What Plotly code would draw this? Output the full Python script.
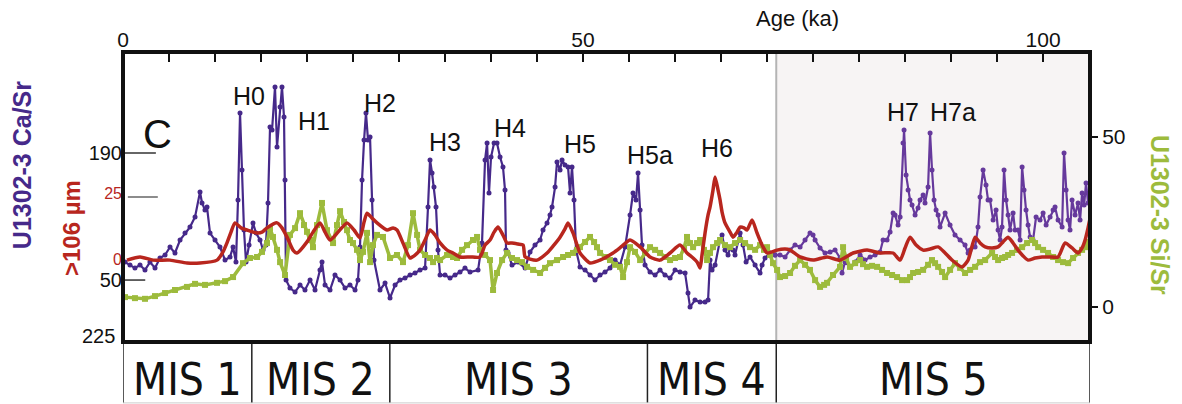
import plotly.graph_objects as go

# ---------------- data ----------------
# U1302-3 Ca/Sr (XRF), age in ka
ca_age = [0.22, 0.76, 1.30, 1.85, 2.39, 2.93, 3.48, 4.02, 4.57, 5.11, 5.65, 6.20, 6.74, 7.28, 7.83,
          8.37, 8.59, 8.91, 9.13, 9.46, 10.00, 10.54, 11.09, 11.63, 11.96, 12.28, 12.50, 12.72, 12.93,
          13.15, 13.37, 13.70, 14.13, 14.46, 14.89, 15.22, 15.54, 15.76, 15.98, 16.20, 16.52, 16.74,
          17.07, 17.28, 17.50, 17.61, 17.72, 18.15, 18.70, 19.24, 19.78, 20.33, 20.87, 21.41, 21.63,
          21.96, 22.50, 23.04, 23.59, 24.13, 24.67, 25.22, 25.54, 25.76, 25.98, 26.20, 26.41, 26.63,
          26.85, 27.07, 27.28, 27.93, 28.48, 29.02, 29.57, 30.11, 30.65, 31.20, 31.74, 32.28, 32.83,
          33.15, 33.37, 33.59, 33.80, 34.02, 34.24, 34.46, 35.00, 35.54, 36.09, 36.63, 37.17, 37.72,
          38.59, 39.02, 39.35, 39.57, 39.78, 40.00, 40.33, 40.65, 40.98, 41.30, 41.52, 41.63, 41.85,
          42.28, 42.93, 43.70, 44.24, 44.78, 45.33, 45.65, 46.09, 46.41, 46.63, 46.96, 47.17, 47.50,
          47.72, 48.04, 48.37, 48.59, 48.80, 49.02, 49.24, 49.67, 50.22, 50.76, 51.30, 51.85, 52.39,
          52.93, 53.48, 54.02, 54.57, 55.11, 55.43, 55.76, 55.98, 56.20, 56.41, 56.74, 57.28, 57.83,
          58.37, 58.91, 59.46, 60.00, 60.54, 61.09, 61.41, 61.63, 62.17, 62.72, 63.26, 63.59, 63.80,
          64.02, 64.35, 64.89, 65.11, 65.43, 65.76, 65.98, 66.30, 66.52, 67.07, 67.39, 67.72, 68.15,
          68.70, 69.24, 69.46, 69.78, 70.33, 70.87, 71.41, 71.96, 72.50, 73.04, 73.59, 74.13, 74.67,
          75.00, 75.22, 75.76, 76.30, 76.85, 77.39, 77.93, 78.15, 78.48, 79.02, 79.57, 80.11, 80.65,
          81.20, 81.74, 82.28, 82.61, 83.04, 83.37, 83.70, 83.91, 84.24, 84.46, 84.78, 84.89, 85.11,
          85.33, 85.54, 85.76, 86.09, 86.41, 86.63, 86.96, 87.17, 87.50, 87.72, 87.93, 88.15, 88.37,
          88.59, 88.80, 89.35, 89.89, 90.43, 90.98, 91.52, 91.85, 92.07, 92.61, 92.93, 93.15, 93.48,
          93.80, 94.02, 94.24, 94.57, 94.89, 95.11, 95.33, 95.54, 95.76, 95.98, 96.20, 96.41, 96.74,
          96.96, 97.28, 97.50, 97.72, 97.93, 98.15, 98.37, 98.59, 98.91, 99.24, 99.67, 100.00, 100.33,
          100.76, 101.09, 101.30, 101.63, 102.07, 102.28, 102.50, 102.72, 102.93, 103.15, 103.48,
          103.80, 104.02, 104.24, 104.46, 104.67, 104.89]
ca_sr = [69.8, 66.5, 63.2, 66.5, 61.0, 69.8, 63.2, 74.3, 77.6, 86.4, 79.8, 94.1, 101.8, 108.4, 119.5,
         147.0, 134.9, 127.2, 130.5, 101.8, 94.1, 86.4, 72.0, 75.4, 86.4, 69.8, 138.2, 234.1, 171.3,
         105.1, 69.8, 88.6, 112.8, 101.8, 94.1, 83.1, 88.6, 134.9, 218.7, 215.4, 262.8, 196.6,
         240.7, 262.8, 229.7, 160.2, 50.0, 41.2, 36.8, 44.5, 39.0, 50.0, 39.0, 61.0, 69.8,
         44.5, 39.0, 55.5, 50.0, 41.2, 44.5, 39.0, 50.0, 86.4, 160.2, 204.3, 234.1, 204.3,
         207.6, 138.2, 72.0, 39.0, 46.7, 30.2, 44.5, 50.0, 52.2, 55.5, 57.7, 61.0, 63.2,
         130.5, 182.3, 168.0, 152.5, 130.5, 83.1, 55.5, 55.5, 52.2, 55.5, 58.8, 63.2, 58.8,
         61.0, 90.8, 182.3, 201.0, 145.9, 185.6, 201.0, 201.0, 185.6, 174.6, 149.2, 83.1, 79.8,
         66.5, 69.8, 63.2, 80.9, 88.6, 94.1, 105.1, 112.8, 121.7, 130.5, 152.5, 180.1, 171.3,
         182.3, 176.8, 174.6, 145.9, 174.6, 138.2, 83.1, 64.3, 61.0, 55.5, 50.0, 55.5, 58.8,
         63.2, 72.0, 66.5, 86.4, 121.7, 145.9, 138.2, 168.0, 127.2, 88.6, 66.5, 58.8, 55.5,
         61.0, 55.5, 52.2, 61.0, 58.8, 57.7, 35.7, 20.2, 28.0, 25.7, 25.7, 28.0, 72.0,
         61.0, 66.5, 94.1, 99.6, 83.1, 77.6, 85.3, 83.1, 77.6, 101.8, 88.6, 69.8, 75.4,
         66.5, 57.7, 66.5, 74.3, 79.8, 77.6, 77.6, 75.4, 83.1, 88.6, 86.4, 94.1, 101.8,
         99.6, 94.1, 85.3, 79.8, 80.9, 83.1, 74.3, 57.7, 69.8, 64.3, 69.8, 77.6, 72.0,
         75.4, 77.6, 80.9, 94.1, 94.1, 102.9, 123.9, 121.7, 110.6, 119.5, 201.0, 215.4, 165.8,
         149.2, 138.2, 132.7, 121.7, 129.4, 138.2, 143.7, 134.9, 152.5, 212.1, 171.3, 138.2, 127.2,
         121.7, 108.4, 123.9, 110.6, 99.6, 94.1, 88.6, 79.8, 83.1, 86.4, 108.4, 141.5, 171.3,
         154.7, 138.2, 138.2, 116.1, 127.2, 105.1, 94.1, 108.4, 171.3, 138.2, 121.7, 105.1, 123.9,
         105.1, 105.1, 94.1, 174.6, 149.2, 127.2, 110.6, 97.4, 94.1, 119.5, 116.1, 123.9, 110.6,
         119.5, 127.2, 130.5, 116.1, 108.4, 190.0, 149.2, 116.1, 105.1, 138.2, 121.7,
         134.9, 116.1, 145.9, 132.7, 156.9, 134.9]

# U1302-3 Si/Sr (XRF)
si_age = [0.22, 1.30, 2.39, 3.48, 4.57, 5.65, 6.96, 7.83, 8.91, 10.22, 11.09, 11.96, 13.04, 13.80,
          14.57, 15.11, 15.65, 15.98, 16.30, 16.74, 17.07, 17.61, 18.15, 18.70, 19.24, 19.67, 20.00,
          20.33, 20.65, 21.09, 21.63, 22.17, 22.83, 23.26, 23.59, 24.02, 24.35, 24.67, 25.00, 25.43,
          25.76, 26.09, 26.52, 26.85, 27.17, 27.61, 28.26, 29.02, 29.78, 30.43, 30.98, 31.52, 31.96,
          32.28, 32.83, 33.37, 33.70, 34.13, 34.46, 35.22, 35.87, 36.30, 36.85, 37.39, 38.04, 38.48,
          38.80, 39.35, 39.89, 40.22, 40.65, 41.20, 41.74, 42.28, 42.83, 43.37, 43.91, 44.57, 45.33,
          45.87, 46.41, 47.17, 47.83, 48.37, 48.91, 49.35, 49.67, 50.22, 50.76, 51.20, 51.52, 51.85,
          52.39, 52.93, 53.48, 54.02, 54.35, 54.78, 55.11, 55.65, 56.20, 56.74, 57.28, 57.83, 58.37,
          58.91, 59.46, 60.00, 60.54, 60.98, 61.30, 61.63, 61.96, 62.39, 62.72, 63.15, 63.48, 63.80,
          64.13, 64.57, 64.89, 65.43, 65.98, 66.52, 67.07, 67.61, 68.15, 68.70, 69.24, 69.67, 70.00,
          70.33, 70.65, 71.09, 71.41, 71.96, 72.50, 73.04, 73.59, 74.13, 74.67, 75.22, 75.76, 76.20,
          76.52, 77.17, 77.93, 78.26, 78.59, 79.02, 79.57, 80.11, 80.43, 80.87, 81.41, 81.96, 82.50,
          83.04, 83.59, 84.13, 84.67, 85.22, 85.54, 85.87, 86.41, 86.96, 87.50, 87.93, 88.26, 88.59,
          89.02, 89.35, 89.89, 90.43, 90.98, 91.52, 92.07, 92.61, 93.15, 93.70, 94.46, 94.78, 95.11,
          95.54, 95.87, 96.20, 96.63, 97.17, 97.72, 98.26, 98.80, 99.13, 99.46, 100.00, 100.54,
          101.09, 101.63, 102.17, 102.72, 103.26, 103.80, 104.24, 104.57, 104.89]
si_sr = [2.9, 2.6, 2.4, 3.2, 4.1, 5.0, 5.9, 6.8, 6.5, 7.1, 7.6, 8.8, 12.9, 14.4,
         14.7, 16.2, 18.8, 23.2, 20.6, 16.8, 13.2, 9.4, 21.2, 23.2, 27.6, 24.1, 22.1,
         19.7, 17.6, 24.1, 30.6, 22.6, 18.8, 24.1, 28.2, 25.0, 22.6, 19.7, 18.8, 16.8,
         13.8, 16.2, 21.8, 13.2, 18.2, 21.2, 20.6, 14.4, 15.3, 13.2, 18.2, 27.6, 21.2,
         16.8, 15.3, 14.4, 13.2, 14.4, 13.8, 15.3, 14.7, 14.4, 16.8, 18.2, 19.7, 20.6,
         16.8, 15.3, 13.8, 5.0, 10.0, 13.8, 15.9, 14.4, 13.8, 13.2, 11.8, 10.9, 10.0,
         11.5, 12.9, 13.8, 14.7, 15.3, 15.9, 16.8, 17.6, 19.1, 20.6, 19.1, 17.6, 15.9,
         14.7, 13.8, 12.4, 11.8, 8.8, 13.2, 17.6, 16.2, 13.8, 15.9, 17.6, 16.8, 15.9,
         14.7, 13.8, 14.4, 14.7, 17.4, 20.6, 18.8, 17.6, 18.8, 19.7, 16.8, 13.8, 15.9,
         17.6, 18.8, 19.7, 18.2, 17.6, 18.8, 19.7, 18.8, 17.6, 16.8, 18.2, 16.8, 17.6,
         15.3, 12.9, 10.9, 8.8, 9.1, 10.0, 12.1, 13.8, 12.4, 10.9, 7.9, 5.9, 6.5,
         7.1, 9.4, 11.8, 17.6, 14.4, 11.8, 12.9, 13.8, 12.6, 11.8, 12.1, 11.8, 10.9,
         10.0, 9.4, 8.8, 7.9, 7.9, 8.8, 10.0, 10.3, 10.9, 12.4, 13.8, 12.9, 11.8,
         10.3, 8.8, 10.9, 12.9, 11.5, 10.0, 10.9, 11.8, 13.2, 13.8, 15.9, 14.7, 13.8,
         14.4, 14.7, 15.3, 15.9, 16.8, 17.6, 18.8, 19.7, 18.8, 17.6, 16.8, 15.9,
         14.7, 13.8, 13.2, 12.9, 14.4, 15.9, 16.8, 17.6, 19.1]

# coarse fraction >106 um (%), smoothed record
cf_age = [0.43, 1.85, 3.26, 5.11, 6.96, 8.37, 10.22, 10.87, 11.30, 11.74, 12.17, 12.83, 13.48, 14.57,
          15.11, 15.65, 16.74, 17.28, 17.83, 18.48, 18.91, 20.00, 20.65, 21.41, 21.96, 22.50, 23.37,
          24.35, 25.11, 25.76, 26.20, 26.52, 27.07, 27.61, 28.70, 29.35, 29.78, 30.43, 31.20, 31.74,
          32.28, 32.83, 33.37, 33.91, 34.46, 35.22, 35.87, 36.63, 37.72, 38.80, 39.35, 39.89, 40.33,
          40.76, 41.30, 41.74, 42.28, 42.93, 43.48, 43.70, 44.24, 45.00, 46.09, 46.74, 47.50, 48.04,
          48.37, 48.91, 49.35, 49.67, 50.76, 51.85, 53.26, 54.24, 55.11, 56.20, 57.28, 58.37, 59.46,
          60.54, 61.30, 61.96, 62.39, 62.72, 62.93, 63.26, 63.59, 63.80, 64.13, 64.35, 64.67, 64.89,
          65.11, 65.43, 65.98, 66.30, 66.74, 67.07, 67.50, 67.83, 68.37, 68.91, 69.46, 70.00, 70.54,
          71.09, 71.96, 72.50, 73.59, 75.00, 76.52, 77.93, 79.35, 80.87, 82.28, 83.70, 84.46, 85.00,
          85.54, 86.20, 86.96, 87.72, 88.59, 89.35, 90.11, 91.20, 91.85, 92.61, 93.15, 93.70, 94.46,
          95.11, 95.65, 96.20, 96.74, 97.28, 97.83, 98.37, 99.13, 99.89, 100.76, 101.63, 102.39,
          103.15, 103.80, 104.24, 104.57, 104.89, 105.11]
cf_pct = [1.1, 2.3, 1.1, 1.1, 0.0, 0.0, 1.1, 4.2, 7.6, 11.7, 15.2, 13.3, 12.5, 11.4,
          11.7, 13.3, 15.2, 13.3, 9.8, 4.9, 3.8, 8.0, 11.7, 15.2, 11.7, 8.7, 11.7,
          15.2, 12.5, 9.5, 15.5, 18.9, 17.0, 15.2, 12.5, 13.3, 12.5, 7.6, 1.9, 3.0,
          4.9, 8.7, 12.5, 10.6, 7.6, 4.9, 3.8, 2.3, 2.3, 2.3, 6.8, 8.7, 11.7,
          13.6, 10.6, 7.6, 7.6, 7.2, 6.8, 2.3, 1.5, 1.1, 3.8, 6.4, 9.8, 12.9,
          15.2, 11.4, 6.8, 3.8, 0.0, 1.1, 3.8, 6.4, 8.7, 6.1, 2.3, 1.1, 3.8,
          6.8, 3.8, 1.9, 0.4, -1.9, 3.0, 11.4, 18.2, 21.2, 27.7, 32.6, 27.7, 23.9,
          19.3, 15.2, 11.7, 9.8, 11.7, 13.6, 13.3, 12.5, 16.3, 11.4, 6.8, 3.8, 4.2,
          4.9, 5.3, 4.9, 2.3, 1.1, 2.3, 1.1, 3.8, 4.9, 3.8, 3.8, 1.1, 5.7,
          9.8, 6.8, 4.9, 5.3, 6.1, 3.8, 1.1, -1.5, 1.1, 9.8, 7.6, 6.1, 5.7,
          6.1, 8.0, 9.8, 7.6, 4.9, 2.7, 1.1, 1.9, 2.3, 2.3, 2.3, 7.6,
          5.7, 3.8, 5.7, 8.7, 13.3, 17.0]

# Heinrich events: label, age (ka), label height (fraction of plot)
h_labels = ["H0", "H1", "H2", "H3", "H4", "H5", "H5a", "H6", "H7", "H7a"]
h_ages = [13.7, 20.76, 27.93, 35.0, 42.07, 49.67, 57.28, 64.57, 84.78, 90.22]
h_ypos = [0.848, 0.762, 0.824, 0.690, 0.738, 0.683, 0.645, 0.669, 0.793, 0.793]

# marine isotope stages: boundaries (ka) and names
mis_bounds = [0, 14, 29, 57, 71, 105.1]
mis_names = ["MIS 1", "MIS 2", "MIS 3", "MIS 4", "MIS 5"]

age_ticks = list(range(0, 106, 5))
age_ticklabels = [str(t) if t in (0, 50, 100) else "" for t in age_ticks]

PURPLE = "#46298a"
PURPLE_MIS5 = "#66399c"
GREEN = "#9dbb3c"
RED = "#b8261e"
FONT = "Liberation Sans, Arial, sans-serif"
NARROW = "DejaVu Sans Condensed, Liberation Sans Narrow, Arial Narrow, sans-serif"

fig = go.Figure()

# Ca/Sr drawn in two segments: glacial part and MIS 5 part
split = mis_bounds[4] - 0.5
seg_a = [(a, v) for a, v in zip(ca_age, ca_sr) if a <= split + 0.6]
seg_b = [(a, v) for a, v in zip(ca_age, ca_sr) if a >= split]
for seg, col in ((seg_a, PURPLE), (seg_b, PURPLE_MIS5)):
    fig.add_trace(go.Scatter(
        x=[p[0] for p in seg], y=[p[1] for p in seg], yaxis="y", mode="lines+markers",
        line=dict(color=col, width=2.2),
        marker=dict(color=col, size=5, symbol="circle"),
        showlegend=False))
fig.add_trace(go.Scatter(
    x=si_age, y=si_sr, yaxis="y2", mode="lines+markers",
    line=dict(color=GREEN, width=3.5),
    marker=dict(color=GREEN, size=6, symbol="square"),
    showlegend=False))
fig.add_trace(go.Scatter(
    x=cf_age, y=cf_pct, yaxis="y3", mode="lines",
    line=dict(color=RED, width=3.5, shape="spline", smoothing=0.6),
    showlegend=False))

shapes = []
# MIS 5 shading
shapes.append(dict(type="rect", xref="x", yref="paper", x0=mis_bounds[4], x1=mis_bounds[5],
                   y0=0, y1=1, fillcolor="#f7f4f4", line=dict(width=0), layer="below"))
shapes.append(dict(type="line", xref="x", yref="paper", x0=mis_bounds[4], x1=mis_bounds[4],
                   y0=0, y1=1, line=dict(color="#b4b4b4", width=2), layer="below"))
# MIS strip below the frame
strip_bottom = -0.21
for b in mis_bounds:
    shapes.append(dict(type="line", xref="x", yref="paper", x0=b, x1=b, y0=strip_bottom, y1=0,
                       line=dict(color="#222222", width=1.5)))
shapes.append(dict(type="line", xref="paper", yref="paper", x0=0, x1=1, y0=strip_bottom,
                   y1=strip_bottom, line=dict(color="#cccccc", width=1)))
# inner tick marks on the left
shapes.append(dict(type="line", xref="paper", yref="y", x0=0, x1=0.034, y0=190, y1=190,
                   line=dict(color="#333333", width=1.5)))
shapes.append(dict(type="line", xref="paper", yref="y", x0=0, x1=0.023, y0=50, y1=50,
                   line=dict(color="#333333", width=1.5)))
shapes.append(dict(type="line", xref="paper", yref="y3", x0=0.005, x1=0.036, y0=25, y1=25,
                   line=dict(color="#666666", width=1.5)))
# frame
shapes.append(dict(type="rect", xref="paper", yref="paper", x0=0, x1=1, y0=0, y1=1,
                   line=dict(color="#111111", width=4), layer="above"))


def label(text, x, y, size, color="#111111", xref="paper", angle=0, family=FONT,
          xanchor="center"):
    return dict(text=text, x=x, y=y, xref=xref, yref="paper", showarrow=False,
                xanchor=xanchor, yanchor="middle", textangle=angle,
                font=dict(family=family, size=size, color=color))


annotations = []
for lab, a, yp in zip(h_labels, h_ages, h_ypos):
    annotations.append(label(lab, a, yp, 25, xref="x"))
for i, name in enumerate(mis_names):
    annotations.append(label(name, (mis_bounds[i] + mis_bounds[i + 1]) / 2, -0.128, 44,
                             xref="x", family=NARROW))
annotations += [
    label("C", 0.0352, 0.717, 40),
    label("Age (ka)", 0.698, 1.114, 22),
    label("<b>U1302-3 Ca/Sr</b>", -0.1044, 0.61, 25, color=PURPLE, angle=-90),
    label("<b>>106 µm</b>", -0.0538, 0.393, 24, color=RED, angle=-90),
    label("<b>U1302-3 Si/Sr</b>", 1.0724, 0.438, 25, color=GREEN, angle=90),
    label("225", -0.006, 0.02, 20, xanchor="right"),
]

fig.update_layout(
    width=1182, height=404,
    margin=dict(l=123, r=92, t=52, b=62),
    paper_bgcolor="white", plot_bgcolor="white",
    font=dict(family=FONT, color="#111111"),
    xaxis=dict(range=[0, 105.1], side="top", tickmode="array", tickvals=age_ticks,
               ticktext=age_ticklabels, ticks="inside", ticklen=10, tickwidth=2,
               tickcolor="#111111", tickfont=dict(size=21), showgrid=False, zeroline=False,
               showline=False),
    yaxis=dict(range=[-18.3, 301.4], tickmode="array", tickvals=[50, 190],
               ticks="", tickfont=dict(size=20, color="#111111"), showgrid=False,
               zeroline=False, showline=False),
    yaxis2=dict(range=[-10.3, 75], overlaying="y", side="right", anchor="x",
                tickmode="array", tickvals=[0, 50], ticks="outside", ticklen=7, tickwidth=2,
                tickcolor="#111111", tickfont=dict(size=21, color="#111111"),
                showgrid=False, zeroline=False, showline=False),
    yaxis3=dict(range=[-29.9, 79.9], overlaying="y", side="left", anchor="x",
                tickmode="array", tickvals=[0, 25], ticks="", ticklabelshift=-4,
                tickfont=dict(size=16, color=RED), showgrid=False, zeroline=False,
                showline=False),
    shapes=shapes,
    annotations=annotations,
)

fig.write_html("out.html")
